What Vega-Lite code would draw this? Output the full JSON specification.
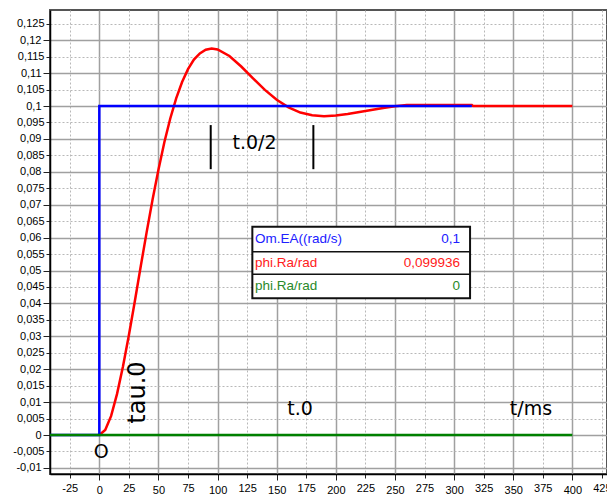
{
  "$schema": "https://vega.github.io/schema/vega-lite/v6.json",
  "autosize": {"type": "none"},
  "padding": {"left": 50, "top": 10, "right": 0, "bottom": 21},
  "width": 557,
  "height": 464,
  "background": "white",
  "config": {
    "view": {"stroke": "#555", "strokeWidth": 2},
    "axis": {"labelFont": "Liberation Sans", "labelFontSize": 11, "labelColor": "#000", "domainColor": "#000", "domainWidth": 1.5, "tickColor": "#222", "tickWidth": 1}
  },
  "datasets": {
    "red": [
      {"t": 0, "v": 0}, {"t": 5, "v": 0.0015}, {"t": 10, "v": 0.0058}, {"t": 15, "v": 0.0125},
      {"t": 20, "v": 0.0208}, {"t": 25, "v": 0.0303}, {"t": 30, "v": 0.0406}, {"t": 35, "v": 0.0512},
      {"t": 40, "v": 0.0616}, {"t": 45, "v": 0.0715}, {"t": 50, "v": 0.0806}, {"t": 55, "v": 0.089},
      {"t": 60, "v": 0.0962}, {"t": 65, "v": 0.1023}, {"t": 70, "v": 0.1073}, {"t": 75, "v": 0.1112},
      {"t": 80, "v": 0.1141}, {"t": 85, "v": 0.116}, {"t": 90, "v": 0.1171}, {"t": 95, "v": 0.1175},
      {"t": 100, "v": 0.1172}, {"t": 110, "v": 0.1152}, {"t": 120, "v": 0.112}, {"t": 130, "v": 0.1084},
      {"t": 140, "v": 0.1049}, {"t": 150, "v": 0.1019}, {"t": 160, "v": 0.0996}, {"t": 170, "v": 0.098},
      {"t": 180, "v": 0.0972}, {"t": 190, "v": 0.0969}, {"t": 200, "v": 0.0971}, {"t": 210, "v": 0.0976},
      {"t": 220, "v": 0.0982}, {"t": 230, "v": 0.0988}, {"t": 240, "v": 0.0994}, {"t": 250, "v": 0.0999},
      {"t": 260, "v": 0.1003}, {"t": 315, "v": 0.1003}, {"t": 316, "v": 0.1}, {"t": 400, "v": 0.1}
    ],
    "blue": [
      {"i": 1, "t": -45, "v": 0}, {"i": 2, "t": 0, "v": 0}, {"i": 3, "t": 0, "v": 0.1}, {"i": 4, "t": 315, "v": 0.1}
    ],
    "green": [
      {"t": -45, "v": 0}, {"t": 400, "v": 0}
    ],
    "markers": [
      {"t": 94.2, "v1": 0.0942, "v2": 0.0808},
      {"t": 181, "v1": 0.0942, "v2": 0.0808}
    ],
    "notes": [
      {"t": 1.7, "v": -0.0052, "label": "O"},
      {"t": 169.7, "v": 0.008, "label": "t.0"},
      {"t": 365, "v": 0.008, "label": "t/ms"},
      {"t": 131.2, "v": 0.0889, "label": "t.0/2"}
    ],
    "rotnotes": [
      {"t": 32.8, "v": 0.0129, "label": "tau.0"}
    ],
    "box": [
      {"t1": 129.4, "t2": 313.5, "v1": 0.04155, "v2": 0.06331}
    ],
    "seps": [
      {"t1": 129.4, "t2": 313.5, "v": 0.05571},
      {"t1": 129.4, "t2": 313.5, "v": 0.04884}
    ],
    "rows": [
      {"series": "Om.EA", "name": "Om.EA((rad/s)", "value": "0,1", "v": 0.0595},
      {"series": "phi.Ra", "name": "phi.Ra/rad", "value": "0,099936", "v": 0.05228},
      {"series": "phi.Ra0", "name": "phi.Ra/rad", "value": "0", "v": 0.0452}
    ]
  },
  "layer": [
    {
      "data": {"name": "green"},
      "mark": {"type": "rule", "opacity": 0},
      "encoding": {
        "x": {"field": "t", "type": "quantitative", "title": null,
          "scale": {"domain": [-41.7, 429.3], "nice": false, "zero": false},
          "axis": {
            "values": [-25, 0, 25, 50, 75, 100, 125, 150, 175, 200, 225, 250, 275, 300, 325, 350, 375, 400, 425],
            "tickCount": 1000,
            "labelExpr": "toString(datum.value)",
            "grid": true,
            "gridColor": {"condition": {"test": "datum.value % 50 == 0", "value": "#a0a0a0"}, "value": "#b8b8b8"},
            "gridDash": {"condition": {"test": "datum.value % 50 == 0", "value": []}, "value": [2, 2]},
            "gridWidth": {"condition": {"test": "datum.value % 50 == 0", "value": 1.5}, "value": 1},
            "tickSize": {"condition": {"test": "datum.value % 50 == 0", "value": 6}, "value": 4},
            "labelPadding": 4,
            "labelFlush": false,
            "labelOverlap": false
          }
        },
        "y": {"field": "v", "type": "quantitative", "title": null,
          "scale": {"domain": [-0.01185, 0.12918], "nice": false, "zero": false},
          "axis": {
            "values": [-0.01, -0.005, 0, 0.005, 0.01, 0.015, 0.02, 0.025, 0.03, 0.035, 0.04, 0.045, 0.05, 0.055, 0.06, 0.065, 0.07, 0.075, 0.08, 0.085, 0.09, 0.095, 0.1, 0.105, 0.11, 0.115, 0.12, 0.125],
            "tickCount": 1000,
            "labelExpr": "replace(toString(datum.value), '.', ',')",
            "grid": true,
            "gridColor": {"condition": {"test": "abs(round(datum.value*200)) % 2 == 0", "value": "#a0a0a0"}, "value": "#b8b8b8"},
            "gridDash": {"condition": {"test": "abs(round(datum.value*200)) % 2 == 0", "value": []}, "value": [2, 2]},
            "gridWidth": {"condition": {"test": "abs(round(datum.value*200)) % 2 == 0", "value": 1.5}, "value": 1},
            "tickSize": {"condition": {"test": "abs(round(datum.value*200)) % 2 == 0", "value": 7}, "value": 4},
            "labelPadding": 2,
            "labelFlush": false,
            "labelOverlap": false
          }
        }
      }
    },
    {
      "mark": {"type": "rule", "color": "#000", "strokeWidth": 1.2},
      "encoding": {"x": {"datum": 0, "type": "quantitative", "title": null}}
    },
    {
      "mark": {"type": "rule", "color": "#000", "strokeWidth": 1.5},
      "encoding": {"y": {"datum": 0, "type": "quantitative", "title": null}}
    },
    {
      "mark": {"type": "rule", "color": "#90ee90", "strokeWidth": 1.5},
      "encoding": {"x": {"datum": 400, "type": "quantitative", "title": null}}
    },
    {
      "data": {"name": "box"},
      "mark": {"type": "rect", "fill": "white", "stroke": "#111", "strokeWidth": 2},
      "encoding": {
        "x": {"field": "t1", "type": "quantitative", "title": null},
        "x2": {"field": "t2"},
        "y": {"field": "v1", "type": "quantitative", "title": null},
        "y2": {"field": "v2"}
      }
    },
    {
      "data": {"name": "seps"},
      "mark": {"type": "rule", "color": "#111", "strokeWidth": 1.5},
      "encoding": {
        "x": {"field": "t1", "type": "quantitative", "title": null},
        "x2": {"field": "t2"},
        "y": {"field": "v", "type": "quantitative", "title": null}
      }
    },
    {
      "data": {"name": "rows"},
      "mark": {"type": "text", "align": "left", "baseline": "middle", "font": "Liberation Sans", "fontSize": 13.5},
      "encoding": {
        "x": {"datum": 131.6, "type": "quantitative", "title": null},
        "y": {"field": "v", "type": "quantitative", "title": null},
        "text": {"field": "name"},
        "color": {"field": "series", "type": "nominal", "legend": null,
          "scale": {"domain": ["Om.EA", "phi.Ra", "phi.Ra0"], "range": ["#2020ff", "#ff2020", "#2a8a2a"]}}
      }
    },
    {
      "data": {"name": "rows"},
      "mark": {"type": "text", "align": "right", "baseline": "middle", "font": "Liberation Sans", "fontSize": 13.5},
      "encoding": {
        "x": {"datum": 305, "type": "quantitative", "title": null},
        "y": {"field": "v", "type": "quantitative", "title": null},
        "text": {"field": "value"},
        "color": {"field": "series", "type": "nominal", "legend": null}
      }
    },
    {
      "data": {"name": "red"},
      "mark": {"type": "line", "color": "#ff0000", "strokeWidth": 2.5, "clip": true},
      "encoding": {
        "x": {"field": "t", "type": "quantitative", "title": null},
        "y": {"field": "v", "type": "quantitative", "title": null}
      }
    },
    {
      "data": {"name": "blue"},
      "mark": {"type": "line", "color": "#0000ff", "strokeWidth": 2.5, "clip": true},
      "encoding": {
        "x": {"field": "t", "type": "quantitative", "title": null},
        "y": {"field": "v", "type": "quantitative", "title": null},
        "order": {"field": "i"}
      }
    },
    {
      "data": {"name": "green"},
      "mark": {"type": "line", "color": "#008000", "strokeWidth": 2.5, "clip": true},
      "encoding": {
        "x": {"field": "t", "type": "quantitative", "title": null},
        "y": {"field": "v", "type": "quantitative", "title": null}
      }
    },
    {
      "data": {"name": "markers"},
      "mark": {"type": "rule", "color": "#000", "strokeWidth": 2},
      "encoding": {
        "x": {"field": "t", "type": "quantitative", "title": null},
        "y": {"field": "v1", "type": "quantitative", "title": null},
        "y2": {"field": "v2"}
      }
    },
    {
      "data": {"name": "notes"},
      "mark": {"type": "text", "align": "center", "baseline": "middle", "font": "DejaVu Sans", "fontSize": 19, "color": "#000"},
      "encoding": {
        "x": {"field": "t", "type": "quantitative", "title": null},
        "y": {"field": "v", "type": "quantitative", "title": null},
        "text": {"field": "label"}
      }
    },
    {
      "data": {"name": "rotnotes"},
      "mark": {"type": "text", "align": "center", "baseline": "middle", "angle": 270, "font": "DejaVu Sans", "fontSize": 24, "color": "#000"},
      "encoding": {
        "x": {"field": "t", "type": "quantitative", "title": null},
        "y": {"field": "v", "type": "quantitative", "title": null},
        "text": {"field": "label"}
      }
    }
  ]
}
